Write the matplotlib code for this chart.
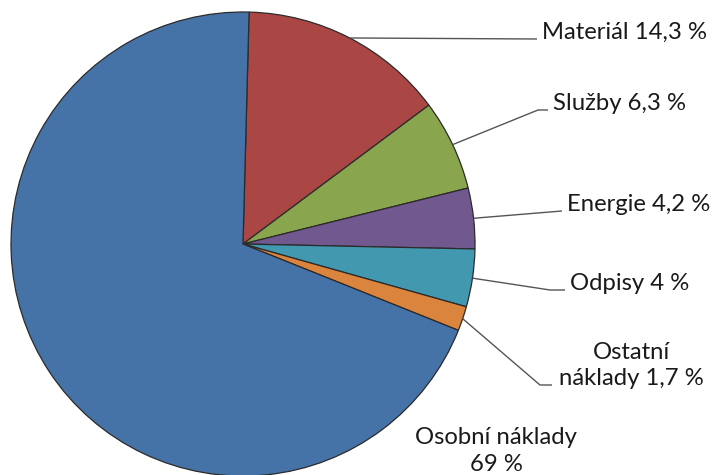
import numpy as np
import matplotlib
matplotlib.use("Agg")
import matplotlib.pyplot as plt

categories = ["Materiál", "Služby", "Energie", "Odpisy", "Ostatní\nnáklady", "Osobní náklady"]
values = [14.3, 6.3, 4.2, 4.0, 1.7, 69.0]
value_labels = ["14,3 %", "6,3 %", "4,2 %", "4 %", "1,7 %", "69 %"]
colors = ["#AA4643", "#89A54E", "#71588F", "#4198AF", "#DB843D", "#4572A7"]

W, H = 718, 475
plt.rcParams['font.family'] = ['Lato', 'DejaVu Sans']

fig = plt.figure(figsize=(W / 100, H / 100), dpi=100)
ax = fig.add_axes([0, 0, 1, 1])

cx, cy, R = 243, H - 244, 232
wedges, _ = ax.pie(values, colors=colors, startangle=88.5, counterclock=False,
                   center=(cx, cy), radius=R, frame=True,
                   wedgeprops=dict(edgecolor='#2b2b2b', linewidth=0.9))
ax.set_xlim(0, W)
ax.set_ylim(0, H)
ax.axis('off')

# leader elbows / ends in pixel coords (y from top); None = no leader
leaders = [((537, 39), (537, 39)),
           ((538, 110), (548, 110)),
           ((562, 211), (562, 211)),
           ((550, 290), (565, 290)),
           ((540, 385), (552, 385)),
           None]

fs = 17.2
tc = '#1a1a1a'
for i, w in enumerate(wedges):
    text = f"{categories[i]} {value_labels[i]}"
    if leaders[i] is None:
        ax.text(496, H - 451, f"{categories[i]}\n{value_labels[i]}", ha='center', va='center',
                fontsize=fs, color=tc, linespacing=1.3)
        continue
    mid = np.deg2rad((w.theta1 + w.theta2) / 2)
    ex, ey = cx + R * np.cos(mid), cy + R * np.sin(mid)
    (bx, by), (tx, ty) = leaders[i]
    ax.plot([ex, bx, tx], [ey, H - by, H - ty], color='#555555', lw=1.0, solid_capstyle='butt')
    if "\n" in categories[i]:
        first, second = categories[i].split("\n")
        ax.text(631, H - ty, f"{first}\n{second} {value_labels[i]}", ha='center', va='baseline',
                fontsize=fs, color=tc, linespacing=1.3, multialignment='center')
    else:
        ax.text(tx + 5, H - ty, text, ha='left', va='baseline', fontsize=fs, color=tc)

fig.savefig("out.png", dpi=100)
